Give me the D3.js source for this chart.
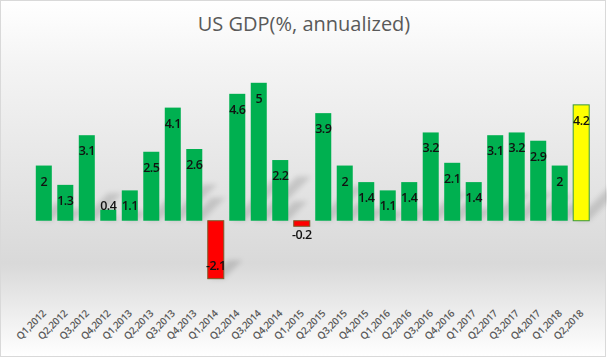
<!DOCTYPE html>
<html><head><meta charset="utf-8">
<script src="https://cdn.jsdelivr.net/npm/d3@7"></script>
<style>
html,body{margin:0;padding:0;background:#fff;}
svg{display:block;}
</style></head>
<body>
<svg id="chart" width="607" height="359"></svg>
<script>
const categories = ["Q1,2012","Q2,2012","Q3,2012","Q4,2012","Q1,2013","Q2,2013","Q3,2013","Q4,2013","Q1,2014","Q2,2014","Q3,2014","Q4,2014","Q1,2015","Q2,2015","Q3,2015","Q4,2015","Q1,2016","Q2,2016","Q3,2016","Q4,2016","Q1,2017","Q2,2017","Q3,2017","Q4,2017","Q1,2018","Q2,2018"];
const gdpValues = [2,1.3,3.1,0.4,1.1,2.5,4.1,2.6,-2.1,4.6,5,2.2,-0.2,3.9,2,1.4,1.1,1.4,3.2,2.1,1.4,3.1,3.2,2.9,2,4.2];
const titleText = "US GDP(%, annualized)";
const highlightCategory = "Q2,2018";

const W = 607, H = 359;
const svg = d3.select("#chart");
const defs = svg.append("defs");
const grad = defs.append("linearGradient").attr("id","bg").attr("x1",0).attr("y1",0).attr("x2",0).attr("y2",1);
[[0,"#ffffff"],[0.18,"#f4f4f4"],[0.74,"#d9d9d9"],[1,"#ffffff"]].forEach(s=>grad.append("stop").attr("offset",s[0]).attr("stop-color",s[1]));
defs.append("filter").attr("id","blur").attr("x","-50%").attr("y","-50%").attr("width","200%").attr("height","200%")
  .append("feGaussianBlur").attr("stdDeviation",2.5);

svg.append("rect").attr("x",0.5).attr("y",0.5).attr("width",W-2).attr("height",H-3)
  .attr("fill","url(#bg)").attr("stroke","#d9d9d9");

const x = d3.scaleBand().domain(categories).range([33,592]).paddingInner(0.255).paddingOuter(0.13);
const y = d3.scaleLinear().domain([-3,6]).range([303.5,55.2]);
const data = categories.map((c,i)=>({c, v:gdpValues[i]}));

// shadows
svg.append("g").attr("filter","url(#blur)").selectAll("path").data(data).join("path")
  .attr("d", d=>{
    const x0 = x(d.c), x1 = x0 + x.bandwidth();
    const base = d.v >= 0 ? y(0) : y(d.v);
    const h = Math.abs(y(d.v)-y(0))*0.32;
    return `M${x0+2},${base} L${x1},${base} L${x1+h},${base-h} L${x0+2+h},${base-h} Z`;
  })
  .attr("fill","#000").attr("opacity",0.13);

// bars
svg.append("g").selectAll("rect").data(data).join("rect")
  .attr("x", d=>x(d.c))
  .attr("width", x.bandwidth())
  .attr("y", d=>Math.min(y(d.v), y(0)))
  .attr("height", d=>Math.abs(y(d.v)-y(0)))
  .attr("fill", d=> d.c===highlightCategory ? "#ffff00" : (d.v<0 ? "#ff0000" : "#00b050"))
  .attr("stroke", d=> d.c===highlightCategory ? "#3a9a3a" : (d.v<0 ? "#7a5a2a" : "none"))
  .attr("stroke-width", 1);

// data labels
svg.append("g").selectAll("text").data(data).join("text")
  .attr("x", d=>x(d.c)+x.bandwidth()/2)
  .attr("y", d=>{
    const h = Math.abs(y(d.v)-y(0));
    if (d.v >= 0) return h < 20 ? y(d.v) + 0.5 : y(d.v) + 20;
    if (h < 20) return y(d.v) + 13;
    return y(d.v) - 9;
  })
  .attr("text-anchor","middle")
  .attr("font-family","'Open Sans', 'Liberation Sans', sans-serif")
  .attr("font-size","12.5px")
  .attr("font-weight","600")
  .attr("letter-spacing","-0.5px")
  .attr("fill","#111")
  .text(d=>d.v);

// x axis labels
const xAxis = d3.axisBottom(x).tickSize(0).tickPadding(0);
const gx = svg.append("g").attr("transform",`translate(0,${317})`).call(xAxis);
gx.select(".domain").remove();
gx.selectAll("text")
  .attr("font-family","'Open Sans', 'Liberation Sans', sans-serif")
  .attr("font-size","10px")
  .attr("font-weight","600")
  .attr("letter-spacing","-0.3px")
  .attr("fill","#595959")
  .attr("text-anchor","end")
  .attr("dy","0")
  .attr("y",0)
  .attr("x",4)
  .attr("transform","rotate(-45)");

// title
svg.append("text").attr("x",304).attr("y",31).attr("text-anchor","middle")
  .attr("font-family","'Open Sans', 'Liberation Sans', sans-serif")
  .attr("font-size","20px").attr("fill","#595959").text(titleText);
</script>
</body></html>
